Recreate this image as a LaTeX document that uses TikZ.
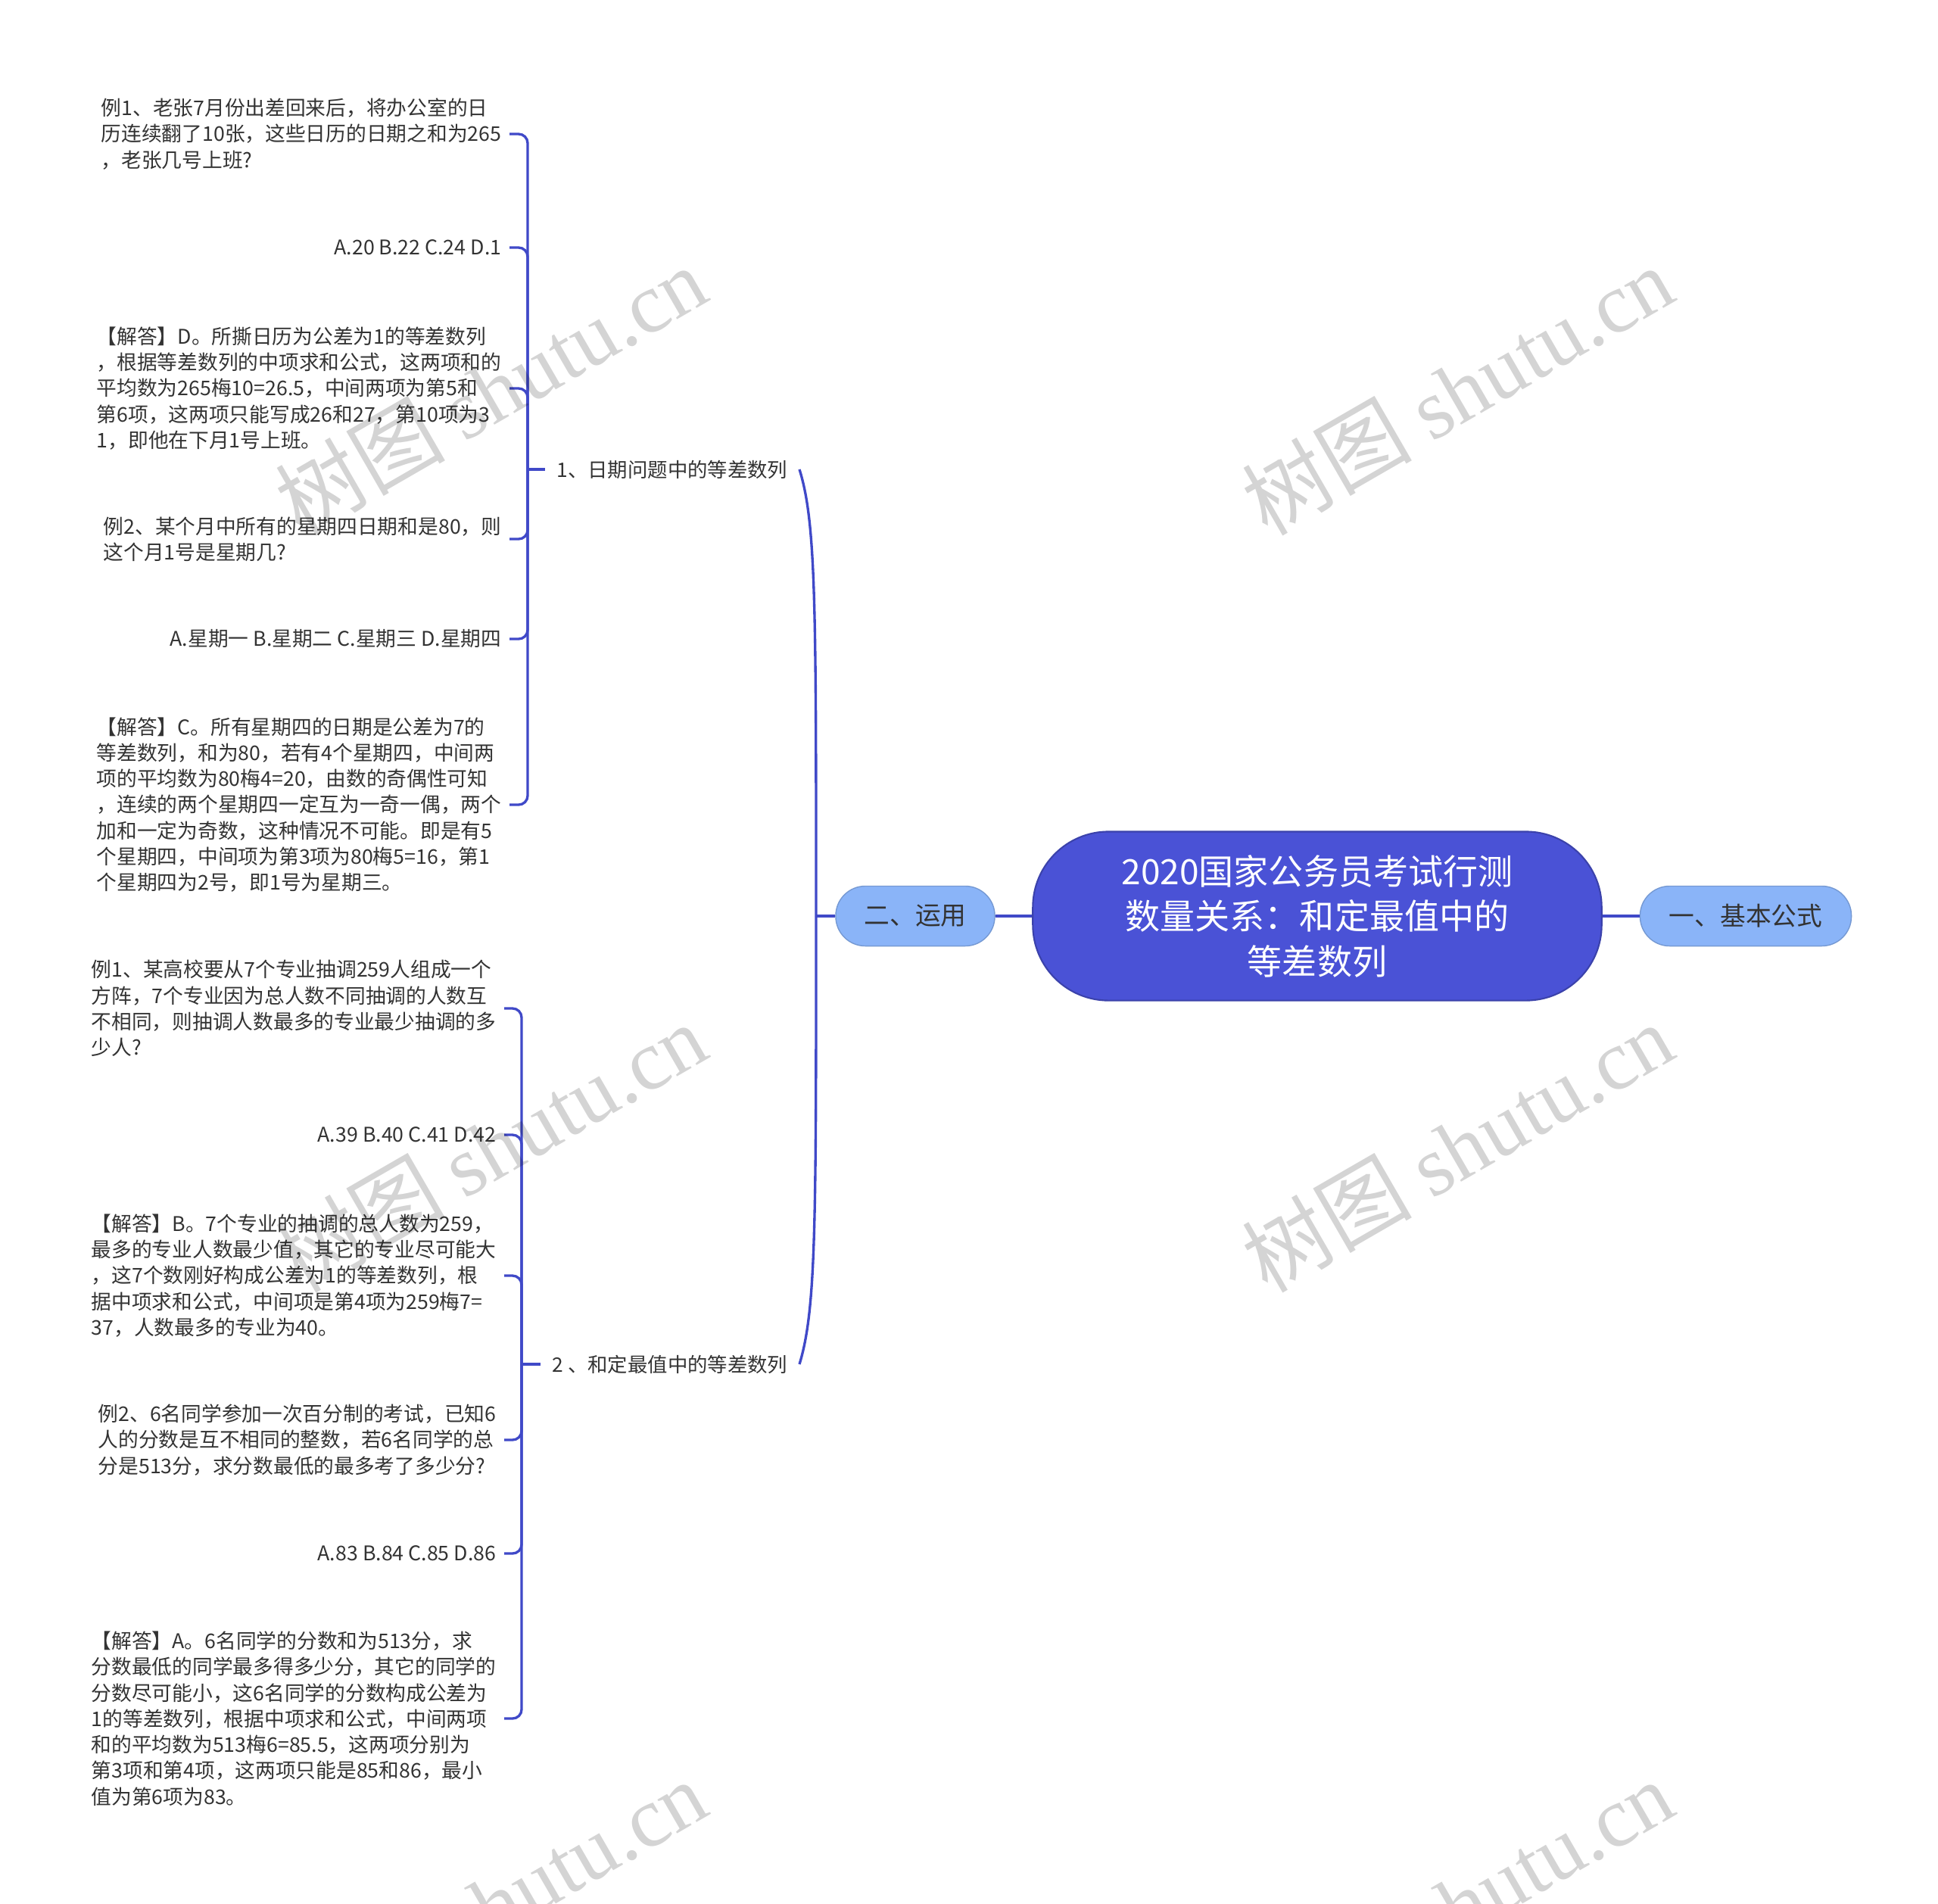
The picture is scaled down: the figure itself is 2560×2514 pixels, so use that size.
\documentclass[tikz,border=0pt]{standalone}
\usepackage{fontspec}
\setmainfont{Noto Sans CJK SC}
\newfontfamily\wmlatin{Liberation Serif}
\usetikzlibrary{calc, positioning}

\definecolor{rootblue}{HTML}{4A52D6}
\definecolor{topicblue}{HTML}{8AB4F8}
\definecolor{linkblue}{HTML}{4049C8}
\definecolor{leaftext}{HTML}{333333}

\begin{document}
\begin{tikzpicture}[x=0.01cm, y=-0.01cm,
   root/.style = {fill=rootblue, draw=rootblue!80!black, line width=0.6pt, text=white,
      rounded corners=1cm, minimum width=7.51cm, minimum height=2.23cm, align=center,
      font=\fontsize{13.1}{16.9}\selectfont},
   topic/.style = {fill=topicblue, draw=topicblue!85!black, line width=0.4pt, text=leaftext,
      rounded corners=0.39cm, minimum height=0.79cm, font=\fontsize{9.6}{12}\selectfont},
   branch/.style = {anchor=east, inner xsep=0.15cm, text=leaftext, font=\fontsize{7.5}{9.75}\selectfont},
   leaf/.style = {anchor=east, align=left, inner xsep=0.1cm, text=leaftext, font=\fontsize{7.6}{9.75}\selectfont},
   link/.style = {draw=linkblue, line width=0.95pt, rounded corners=0.12cm},
   trunk/.style = {draw=linkblue, line width=1.3pt},
   stamp/.style = {text=black, text opacity=0.17, rotate=30, font=\fontsize{32}{32}\selectfont}]

   \useasboundingbox (0,0) rectangle (2560,2514);

   % centre and first level
   \node[root] (rt) at (1740,1210) {2020国家公务员考试行测\\数量关系：和定最值中的\\等差数列};
   \node[topic, minimum width=2.79cm] (mr) at (2306,1210) {一、基本公式};
   \node[topic, minimum width=2.10cm] (ml) at (1209,1210) {二、运用};

   \draw[trunk] (rt.east) -- (mr.west);
   \draw[trunk] (rt.west) -- (ml.east);

   % second level
   \node[branch] (b1) at (1056,620) {1、日期问题中的等差数列};
   \node[branch] (b2) at (1056,1802) {2 、和定最值中的等差数列};

   \coordinate (j2) at (1078,1210);
   \draw[link] (ml.west) -- (j2);
   \draw[link] (j2) .. controls (1078,800) and (1078,690) .. (b1.east);
   \draw[link] (j2) .. controls (1078,1620) and (1078,1730) .. (b2.east);

   % leaves of 1
   \node[leaf] (a1) at (673,177) {例1、老张7月份出差回来后，将办公室的日\\历连续翻了10张，这些日历的日期之和为265\\，老张几号上班?};
   \node[leaf] (a2) at (673,327) {A.20 B.22 C.24 D.1};
   \node[leaf] (a3) at (673,513) {【解答】D。所撕日历为公差为1的等差数列\\，根据等差数列的中项求和公式，这两项和的\\平均数为265梅10=26.5，中间两项为第5和\\第6项，这两项只能写成26和27，第10项为3\\1，即他在下月1号上班。};
   \node[leaf] (a4) at (673,712) {例2、某个月中所有的星期四日期和是80，则\\这个月1号是星期几?};
   \node[leaf] (a5) at (673,844) {A.星期一 B.星期二 C.星期三 D.星期四};
   \node[leaf] (a6) at (673,1063) {【解答】C。所有星期四的日期是公差为7的\\等差数列，和为80，若有4个星期四，中间两\\项的平均数为80梅4=20，由数的奇偶性可知\\，连续的两个星期四一定互为一奇一偶，两个\\加和一定为奇数，这种情况不可能。即是有5\\个星期四，中间项为第3项为80梅5=16，第1\\个星期四为2号，即1号为星期三。};

   \coordinate (k1) at (697,620);
   \draw[link] (b1.west) -- (k1);
   \foreach \n in {a1,a2,a3,a4,a5,a6}
      \draw[link] (k1) |- (\n.east);

   % leaves of 2
   \node[leaf] (c1) at (666,1332) {例1、某高校要从7个专业抽调259人组成一个\\方阵，7个专业因为总人数不同抽调的人数互\\不相同，则抽调人数最多的专业最少抽调的多\\少人?};
   \node[leaf] (c2) at (666,1499) {A.39 B.40 C.41 D.42};
   \node[leaf] (c3) at (666,1685) {【解答】B。7个专业的抽调的总人数为259，\\最多的专业人数最少值，其它的专业尽可能大\\，这7个数刚好构成公差为1的等差数列，根\\据中项求和公式，中间项是第4项为259梅7=\\37，人数最多的专业为40。};
   \node[leaf] (c4) at (666,1902) {例2、6名同学参加一次百分制的考试，已知6\\人的分数是互不相同的整数，若6名同学的总\\分是513分，求分数最低的最多考了多少分?};
   \node[leaf] (c5) at (666,2052) {A.83 B.84 C.85 D.86};
   \node[leaf] (c6) at (666,2270) {【解答】A。6名同学的分数和为513分，求\\分数最低的同学最多得多少分，其它的同学的\\分数尽可能小，这6名同学的分数构成公差为\\1的等差数列，根据中项求和公式，中间两项\\和的平均数为513梅6=85.5，这两项分别为\\第3项和第4项，这两项只能是85和86，最小\\值为第6项为83。};

   \coordinate (k2) at (689,1802);
   \draw[link] (b2.west) -- (k2);
   \foreach \n in {c1,c2,c3,c4,c5,c6}
      \draw[link] (k2) |- (\n.east);

   % watermarks
   \begin{scope}
      \clip (0,0) rectangle (2560,2514);
      \foreach \x/\y [count=\i] in {648/515, 1925/515, 648/1515, 1925/1515, 648/2515, 1925/2515}
         \node[stamp] (w\i) at (\x,\y) {树图 {\wmlatin shutu.cn}};
   \end{scope}
\end{tikzpicture}
\end{document}
